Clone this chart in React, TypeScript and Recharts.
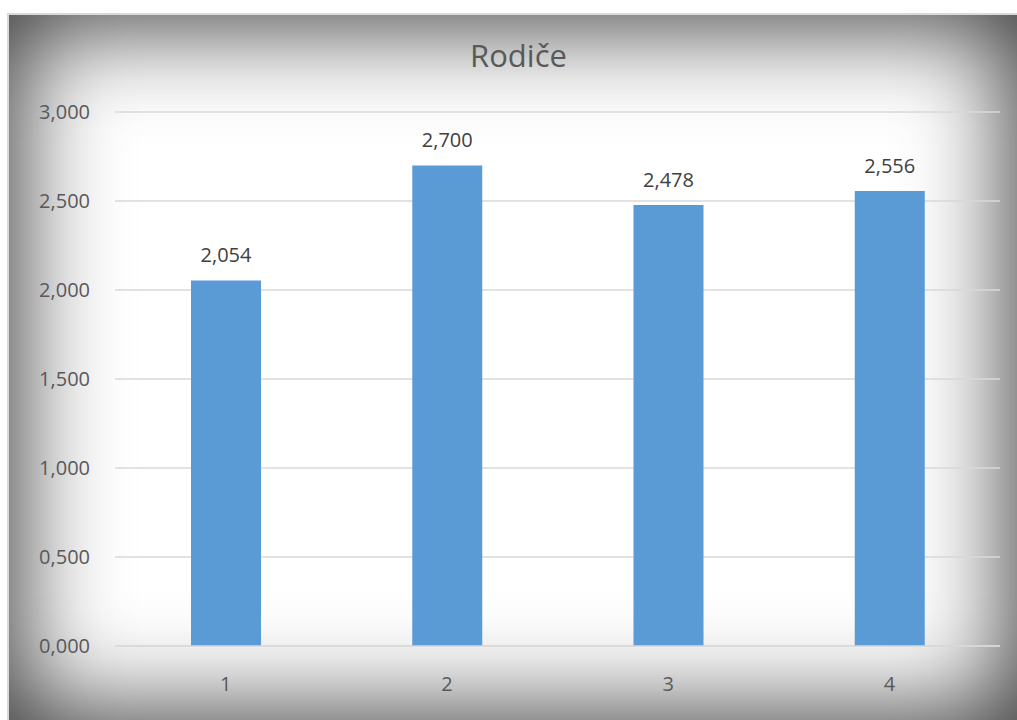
import React from "react";
import { BarChart, Bar, XAxis, YAxis, CartesianGrid, LabelList } from "recharts";

const categories = ["1", "2", "3", "4"];
const values = [2.054, 2.7, 2.478, 2.556];
const yTicks = [0, 0.5, 1, 1.5, 2, 2.5, 3];
const title = "Rodiče";

const data = categories.map((c, i) => ({ name: c, value: values[i] }));
const fmt = (v: number) => Number(v).toFixed(3).replace(".", ",");

const FONT = "'Open Sans', 'Noto Sans', sans-serif";

export default function App() {
  return (
    <div style={{ position: "absolute", left: 0, top: 0, width: 1017, height: 720, background: "#ffffff", overflow: "hidden" }}>
      <div
        style={{
          position: "absolute",
          left: 7,
          top: 13,
          width: 1012,
          height: 710,
          borderTop: "2px solid #d9d9d9",
          borderLeft: "2px solid #d9d9d9",
          boxSizing: "border-box",
          background: "#ffffff",
          boxShadow: "inset 0 0 100px 10px rgba(0,0,0,0.78)",
        }}
      />
      <div style={{ position: "absolute", left: 0, top: 0, width: 1017, height: 720 }}>
        <div
          style={{
            position: "absolute",
            left: 0,
            width: 1037,
            top: 34,
            textAlign: "center",
            fontFamily: FONT,
            fontSize: 31,
            color: "#595959",
          }}
        >
          {title}
        </div>
        <BarChart
          width={1017}
          height={720}
          data={data}
          margin={{ top: 112, right: 17, bottom: 0, left: 0 }}
          barCategoryGap={0}
        >
          <CartesianGrid vertical={false} stroke="#d9d9d9" strokeWidth={1.5} />
          <XAxis
            dataKey="name"
            height={74}
            axisLine={{ stroke: "#d9d9d9", strokeWidth: 1.5 }}
            tickLine={false}
            tickSize={0}
            tickMargin={31}
            tick={{ fill: "#595959", fontSize: 20, fontFamily: FONT }}
          />
          <YAxis
            width={115}
            domain={[0, 3]}
            ticks={yTicks}
            tickFormatter={fmt}
            axisLine={false}
            tickLine={false}
            tickSize={0}
            tickMargin={25}
            tick={{ fill: "#595959", fontSize: 20, fontFamily: FONT }}
          />
          <Bar dataKey="value" fill="#5b9bd5" barSize={70} isAnimationActive={false}>
            <LabelList
              dataKey="value"
              position="top"
              offset={18}
              formatter={(v: any) => fmt(v)}
              style={{ fill: "#404040", fontSize: 20, fontFamily: FONT }}
            />
          </Bar>
        </BarChart>
      </div>
    </div>
  );
}
